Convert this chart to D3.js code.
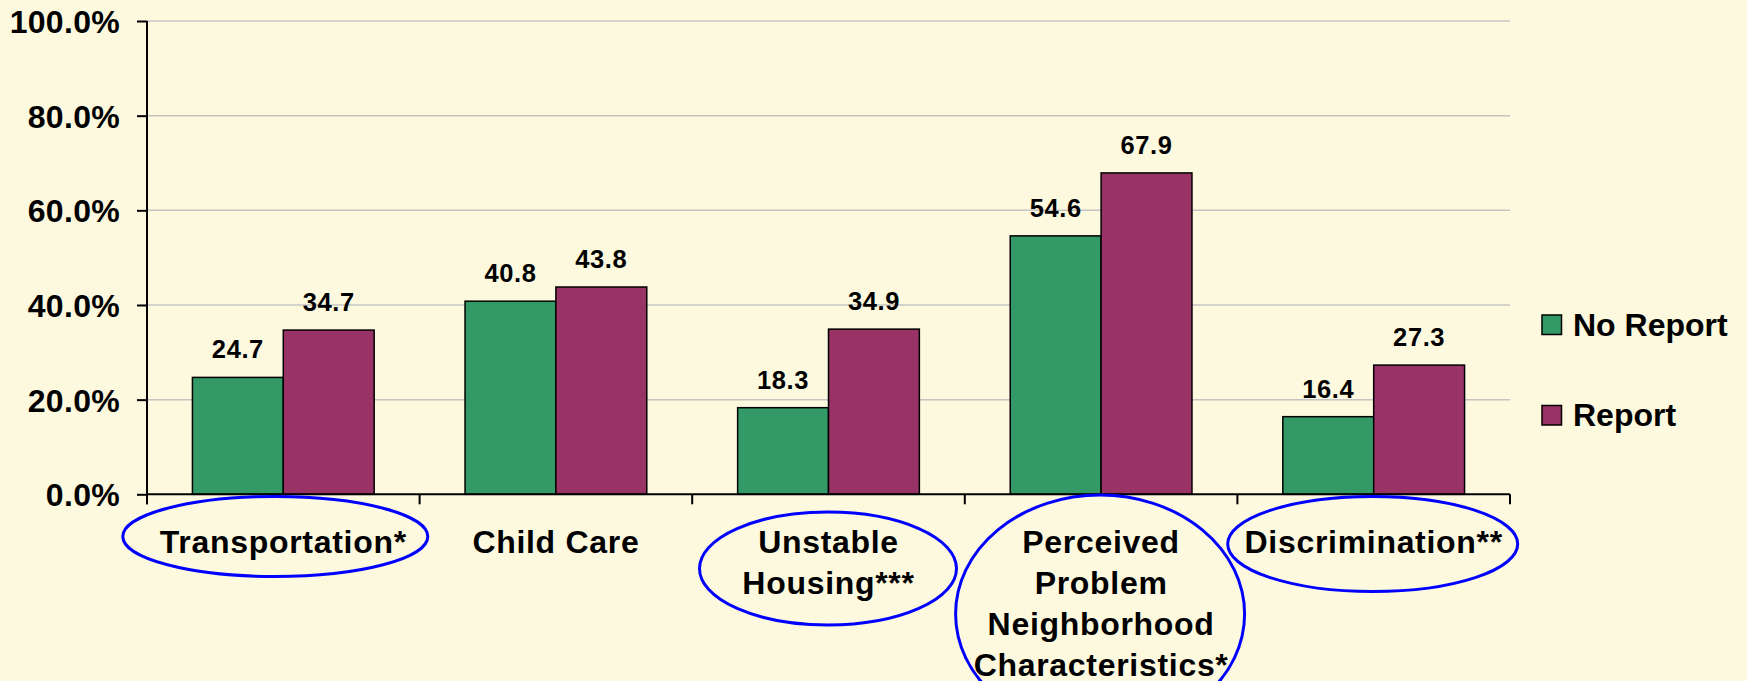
<!DOCTYPE html>
<html>
<head>
<meta charset="utf-8">
<script src="https://cdn.jsdelivr.net/npm/d3@7"></script>
<style>
  body { margin: 0; background: #FDF9DF; }
  svg { display: block; font-family: "Liberation Sans", Arial, sans-serif; font-weight: bold; }
</style>
</head>
<body>
<svg id="chart" width="1747" height="681"></svg>
<script>
// categories (each entry = lines of the axis label)
const categories = ["Transportation*", "Child Care", "Unstable Housing***", "Perceived Problem Neighborhood Characteristics*", "Discrimination**"];
const categoryLines = [
  ["Transportation*"],
  ["Child Care"],
  ["Unstable", "Housing***"],
  ["Perceived", "Problem", "Neighborhood", "Characteristics*"],
  ["Discrimination**"]
];
const series = ["No Report", "Report"];
const noReport = [24.7, 40.8, 18.3, 54.6, 16.4];
const report = [34.7, 43.8, 34.9, 67.9, 27.3];
const yTicks = [0, 20, 40, 60, 80, 100];
// categories circled in the original (significant differences)
const circled = ["Transportation*", "Unstable Housing***", "Perceived Problem Neighborhood Characteristics*", "Discrimination**"];

const colors = { "No Report": "#339966", "Report": "#993366" };

const svg = d3.select("#chart");
const plotLeft = 147, plotRight = 1510, plotTop = 21, plotBottom = 494.3;

const y = d3.scaleLinear().domain([0, 100]).range([plotBottom, plotTop]);
const x0 = d3.scaleBand().domain(categories).range([plotLeft, plotRight]).padding(0);
const x1 = d3.scaleBand().domain(series).range([0, x0.bandwidth()]).paddingInner(0).paddingOuter(0.5);

// gridlines
svg.append("g")
  .selectAll("line")
  .data(yTicks.filter(d => d > 0))
  .join("line")
  .attr("x1", plotLeft).attr("x2", plotRight)
  .attr("y1", d => y(d)).attr("y2", d => y(d))
  .attr("stroke", "#C4C4C4").attr("stroke-width", 1.5);

// y axis
const yAxis = svg.append("g")
  .attr("transform", `translate(${plotLeft},0)`)
  .call(d3.axisLeft(y).tickValues(yTicks).tickSize(10).tickPadding(17).tickFormat(d => d3.format(".1f")(d) + "%"));
yAxis.attr("font-family", null).attr("font-size", null);
yAxis.select(".domain").attr("stroke", "#000").attr("stroke-width", 2).attr("d", `M0,${plotTop}V${plotBottom + 10}`);
yAxis.selectAll(".tick line").attr("stroke", "#000").attr("stroke-width", 2);
yAxis.selectAll(".tick text")
  .attr("fill", "#000").attr("font-size", 32).attr("letter-spacing", 0.3).attr("dy", "0.36em");

// bars
const rows = categories.map((c, i) => ({ cat: c, vals: [noReport[i], report[i]] }));
const groups = svg.append("g").selectAll("g")
  .data(rows)
  .join("g")
  .attr("transform", d => `translate(${x0(d.cat)},0)`);

groups.selectAll("rect")
  .data(d => series.map((s, j) => ({ s, v: d.vals[j] })))
  .join("rect")
  .attr("x", d => x1(d.s))
  .attr("width", x1.bandwidth())
  .attr("y", d => y(d.v))
  .attr("height", d => plotBottom - y(d.v))
  .attr("fill", d => colors[d.s])
  .attr("stroke", "#000").attr("stroke-width", 1.5);

groups.selectAll("text")
  .data(d => series.map((s, j) => ({ s, v: d.vals[j] })))
  .join("text")
  .attr("x", d => x1(d.s) + x1.bandwidth() / 2)
  .attr("y", d => y(d.v) - 19)
  .attr("text-anchor", "middle")
  .attr("font-size", 25.5)
  .attr("letter-spacing", 0.6)
  .text(d => d3.format(".1f")(d.v));

// x axis line + category ticks
const xAxis = svg.append("g");
xAxis.append("line")
  .attr("x1", plotLeft).attr("x2", plotRight).attr("y1", plotBottom).attr("y2", plotBottom)
  .attr("stroke", "#000").attr("stroke-width", 2);
xAxis.selectAll(".tk")
  .data(categories.map(c => x0(c)).concat([plotRight]))
  .join("line").attr("class", "tk")
  .attr("x1", d => d).attr("x2", d => d)
  .attr("y1", plotBottom).attr("y2", plotBottom + 10)
  .attr("stroke", "#000").attr("stroke-width", 2);

// category labels
const labels = svg.append("g").selectAll("text")
  .data(categories)
  .join("text")
  .attr("text-anchor", "middle")
  .attr("font-size", 32)
  .attr("letter-spacing", 0.7)
  .attr("y", 553);
labels.selectAll("tspan")
  .data((d, i) => categoryLines[i].map(t => ({ t, cx: x0(d) + x0.bandwidth() / 2 })))
  .join("tspan")
  .attr("x", d => d.cx)
  .attr("dy", (d, i) => i === 0 ? 0 : 41)
  .text(d => d.t);

// blue ellipses (offset from band center, radii)
const ellipseShape = {
  "Transportation*": { dx: -8, cy: 536.5, rx: 152.5, ry: 40 },
  "Unstable Housing***": { dx: -0.5, cy: 568.5, rx: 128.5, ry: 56.5 },
  "Perceived Problem Neighborhood Characteristics*": { dx: -1, cy: 614, rx: 144.5, ry: 119 },
  "Discrimination**": { dx: -1, cy: 544, rx: 145, ry: 47.5 }
};
svg.append("g").selectAll("ellipse")
  .data(circled)
  .join("ellipse")
  .attr("cx", d => x0(d) + x0.bandwidth() / 2 + ellipseShape[d].dx)
  .attr("cy", d => ellipseShape[d].cy)
  .attr("rx", d => ellipseShape[d].rx)
  .attr("ry", d => ellipseShape[d].ry)
  .attr("fill", "none")
  .attr("stroke", "#0000FF").attr("stroke-width", 3);

// legend
const legend = svg.append("g").selectAll("g")
  .data(series)
  .join("g")
  .attr("transform", (d, i) => `translate(1542,${315 + i * 90.5})`);
legend.append("rect")
  .attr("width", 19.5).attr("height", 19.5)
  .attr("fill", d => colors[d])
  .attr("stroke", "#000").attr("stroke-width", 1.5);
legend.append("text")
  .attr("x", 31).attr("y", 20.5)
  .attr("font-size", 32)
  .text(d => d);
</script>
</body>
</html>
